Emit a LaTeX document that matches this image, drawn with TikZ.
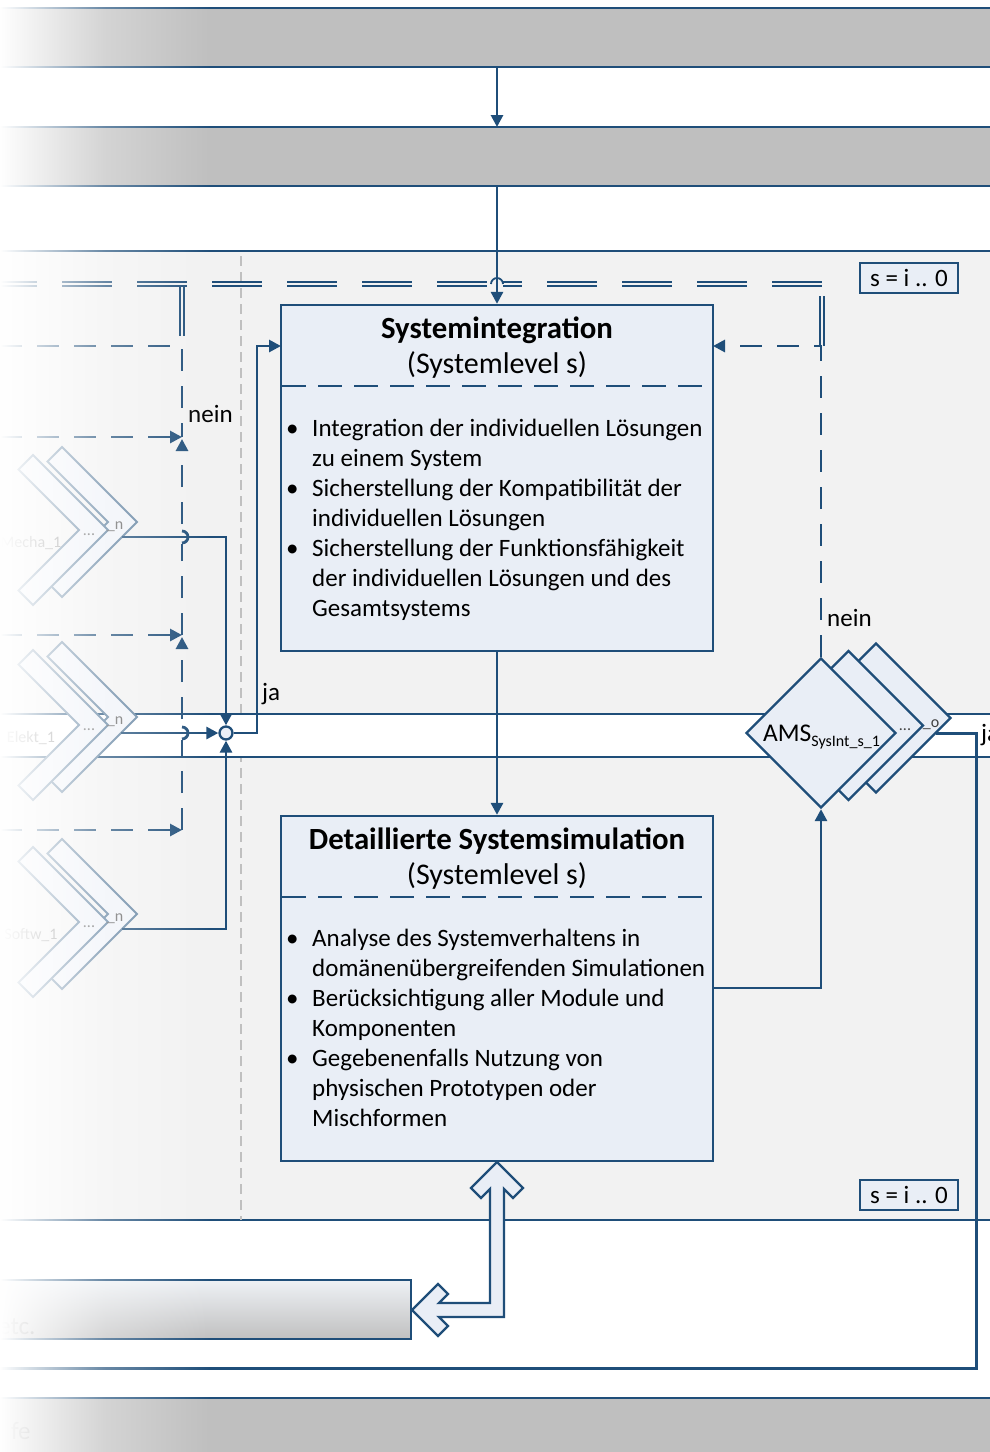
\documentclass[tikz,border=0pt]{standalone}
\usepackage{fontspec}
\setmainfont{Carlito}
\usetikzlibrary{arrows.meta,shapes.geometric,fadings}

\definecolor{navy}{HTML}{1F4E79}
\definecolor{boxfill}{HTML}{E9EEF6}
\definecolor{regionbg}{HTML}{F2F2F2}
\definecolor{bandgray}{HTML}{BFBFBF}
\definecolor{guidegray}{HTML}{C0C0C0}
\definecolor{etctop}{HTML}{EEF1F5}
\definecolor{etcbottom}{HTML}{C0C0C0}

% white veil that softens the left margin
\tikzfading[name=fadeleft, left color=transparent!0, right color=transparent!100, middle color=transparent!67]

\tikzset{
  flow/.style={draw=navy, line width=2.8pt},
  arrowend/.style={-{Triangle[length=12pt,width=12pt]}},
  dashflow/.style={draw=navy, line width=2.8pt, dash pattern=on 22pt off 15pt},
  dblline/.style={draw=navy, line width=1.8pt, double=regionbg, double distance=1.8pt},
  bandline/.style={draw=navy, line width=2.2pt},
  stepbox/.style={draw=navy, line width=2.3pt, fill=boxfill, rectangle, inner sep=0pt},
  diamondbox/.style={draw=navy, line width=2.3pt, fill=boxfill, diamond, aspect=1, inner sep=0pt,
                     minimum width=150pt, minimum height=150pt},
  sepdash/.style={draw=navy, line width=2.8pt, dash pattern=on 24pt off 12pt},
  chev/.style={draw=navy!70, line width=1.8pt, fill=boxfill!70, line join=miter},
  blockarrow/.style={draw=navy, line width=2.3pt, fill=boxfill, line join=miter},
  bodytext/.style={font=\fontsize{25}{30}\selectfont, inner sep=0pt, anchor=base west},
  boxtitle/.style={font=\fontsize{30.8}{36}\selectfont\bfseries, inner sep=0pt, anchor=base},
  boxsub/.style={font=\fontsize{30}{36}\selectfont, inner sep=0pt, anchor=base},
  lbl/.style={font=\fontsize{25}{30}\selectfont, inner sep=0pt, anchor=base west},
  chevtext/.style={font=\fontsize{16}{18}\selectfont, inner sep=0pt, text=black!45},
  chevdots/.style={font=\fontsize{16}{18}\selectfont, inner sep=0pt, text=black!60},
}

\begin{document}
\begin{tikzpicture}[x=1pt,y=-1pt]
\useasboundingbox (0,0) rectangle (990,1452);
\clip (0,0) rectangle (990,1452);
\fill[white] (0,0) rectangle (990,1452);

% ---------- upper phase bands ----------
\fill[bandgray] (0,8) rectangle (990,67);
\draw[bandline] (0,8) -- (990,8);
\draw[bandline] (0,67) -- (990,67);
\fill[bandgray] (0,127) rectangle (990,186);
\draw[bandline] (0,127) -- (990,127);
\draw[bandline] (0,186) -- (990,186);
\coordinate (b1out) at (497,67);
\coordinate (b2in) at (497,127);
\coordinate (b2out) at (497,186);
\draw[flow, arrowend] (b1out) -- (b2in);

% ---------- system level region ----------
\fill[regionbg] (0,251) rectangle (990,1220);
\draw[bandline] (0,251) -- (990,251);
\draw[bandline] (0,1220) -- (990,1220);
\draw[guidegray, line width=1.5pt, dash pattern=on 10pt off 6pt] (241,256) -- (241,1220);

% white lane of the decision
\fill[white] (0,714) rectangle (990,757);
\draw[bandline] (0,714) -- (990,714);
\draw[bandline] (0,757) -- (990,757);

% ---------- iteration loop (double dashed) ----------
\draw[dblline, dash pattern=on 50pt off 25pt] (-13,284) -- (491,284);
\draw[dblline, dash pattern=on 50pt off 25pt, dash phase=31pt] (503,284) -- (822,284);
\draw[navy, line width=1.8pt] (491,284) arc[start angle=180, end angle=360, radius=6];
\draw[dblline] (182,287) -- (182,336);
\draw[dblline] (822,296) -- (822,346);

% ---------- feedback lines on the left ----------
\draw[dashflow] (0,346) -| (182,437);
\draw[dashflow, arrowend] (0,437) -- (182,437);
\draw[dashflow, arrowend] (182,635) -- (182,439);
\draw[dashflow, arrowend] (0,635) -- (182,635);
\draw[dashflow, arrowend] (182,830) -- (182,637);
\draw[dashflow, arrowend] (0,830) -- (182,830);
\node[lbl] (neinl) at (188,422) {nein};

% line hops on the dashed vertical
\fill[regionbg] (178,530) rectangle (187,544);
\draw[navy, line width=2.8pt] (182,531) arc[start angle=-90, end angle=90, radius=6];
\fill[white] (178,726) rectangle (187,740);
\draw[navy, line width=2.8pt] (182,727) arc[start angle=-90, end angle=90, radius=6];

% ---------- domain chevrons ----------
\foreach \ty/\lab in {522/Mecha\_1,717/Elekt\_1,914/Softw\_1}{
  \draw[chev] (62,{\ty-75}) -- (137,\ty) -- (62,{\ty+75}) -- (47.5,{\ty+60.5}) -- (108,\ty) -- (47.5,{\ty-60.5}) -- cycle;
  \draw[chev] (33,{\ty-67}) -- (108,{\ty+8}) -- (33,{\ty+83}) -- (18.5,{\ty+68.5}) -- (79,{\ty+8}) -- (18.5,{\ty-52.5}) -- cycle;
  \node[chevtext] (cl\ty) at (31,{\ty+21}) {\lab};
  \node[chevdots] (cd\ty) at (89,{\ty+13}) {...};
  \node[chevdots] (cn\ty) at (115,{\ty+5}) {\_n};
}
\coordinate (mout) at (122,537);
\coordinate (eout) at (121,733);
\coordinate (sout) at (122,929);

% ---------- junction and entry into the integration step ----------
\node[circle, draw=navy, line width=2.3pt, fill=boxfill, minimum size=13pt, inner sep=0pt] (jn) at (226,733) {};
\draw[flow, arrowend] (mout) -| (jn.north);
\draw[flow, arrowend] (eout) -- (jn.west);
\draw[flow, arrowend] (sout) -| (jn.south);
\coordinate (siin) at (281,346);
\draw[flow, arrowend] (jn.east) -- (257,733) |- (siin);
\node[lbl] (jal) at (262,700) {ja};

% ---------- Systemintegration ----------
\node[stepbox, minimum width=432pt, minimum height=346pt] (si) at (497,478) {};
\draw[flow, arrowend] (b2out) -- (si.north);
\draw[sepdash] (282,386) -- (712,386);
\node[boxtitle] (sit) at (497,338) {Systemintegration};
\node[boxsub] (sis) at (497,373) {(Systemlevel s)};
\foreach \yy in {436,496,556}{\node[bodytext] (sib\yy) at (286,\yy) {\textbullet};}
\node[bodytext] (si1) at (312,436) {Integration der individuellen Lösungen};
\node[bodytext] (si2) at (312,466) {zu einem System};
\node[bodytext] (si3) at (312,496) {Sicherstellung der Kompatibilität der};
\node[bodytext] (si4) at (312,526) {individuellen Lösungen};
\node[bodytext] (si5) at (312,556) {Sicherstellung der Funktionsfähigkeit};
\node[bodytext] (si6) at (312,586) {der individuellen Lösungen und des};
\node[bodytext] (si7) at (312,616) {Gesamtsystems};

% ---------- Detaillierte Systemsimulation ----------
\node[stepbox, minimum width=432pt, minimum height=345pt] (ds) at (497,988.5) {};
\draw[flow, arrowend] (si.south) -- (ds.north);
\draw[sepdash] (282,897) -- (712,897);
\node[boxtitle] (dst) at (497,849) {Detaillierte Systemsimulation};
\node[boxsub] (dss) at (497,884) {(Systemlevel s)};
\foreach \yy in {946,1006,1066}{\node[bodytext] (dsb\yy) at (286,\yy) {\textbullet};}
\node[bodytext] (ds1) at (312,946) {Analyse des Systemverhaltens in};
\node[bodytext] (ds2) at (312,976) {domänenübergreifenden Simulationen};
\node[bodytext] (ds3) at (312,1006) {Berücksichtigung aller Module und};
\node[bodytext] (ds4) at (312,1036) {Komponenten};
\node[bodytext] (ds5) at (312,1066) {Gegebenenfalls Nutzung von};
\node[bodytext] (ds6) at (312,1096) {physischen Prototypen oder};
\node[bodytext] (ds7) at (312,1126) {Mischformen};

% ---------- decision stack ----------
\node[diamondbox] (ams3) at (876,718) {};
\node[diamondbox] (ams2) at (848.5,725.5) {};
\node[diamondbox] (ams) at (821,733) {};
\node[font=\fontsize{25.5}{30}\selectfont, inner sep=0pt, anchor=base] (amsl) at (821.5,741)
  {AMS\raisebox{-5pt}{\fontsize{16}{18}\selectfont SysInt\_s\_1}};
\node[chevdots, text=black!75] (amsd) at (905,730) {...};
\node[chevdots, text=black!75] (amso) at (931,725) {\_o};

\coordinate (dsout) at (713,988);
\draw[flow, arrowend] (dsout) -| (ams.south);
\coordinate (siback) at (713,346);
\draw[dashflow, arrowend] (ams.north) |- (siback);
\node[lbl] (neinr) at (827,626) {nein};

% ---------- level counters ----------
\node[stepbox, minimum width=98pt, minimum height=30pt, font=\fontsize{25}{30}\selectfont] (lvl1) at (909,278) {s = i .. 0};
\node[stepbox, minimum width=98pt, minimum height=30pt, font=\fontsize{25}{30}\selectfont] (lvl2) at (909,1195) {s = i .. 0};

% ---------- exit to the next phase ----------
\coordinate (amsout) at (936,733);
\draw[flow, line width=3pt] (amsout) -| (976,1368) -- (-5,1368);
\node[lbl] (jar) at (981,741) {ja};

% ---------- supporting tools box and exchange arrow ----------
\node[draw=navy, line width=2.3pt, top color=etctop, bottom color=etcbottom, rectangle, inner sep=0pt,
      minimum width=415pt, minimum height=59pt] (etcbox) at (203.5,1309.5) {};
\node[lbl, text=black!50] (etct) at (-2,1334) {etc.};
\draw[blockarrow] (497,1162) -- (523,1188) -- (513,1198) -- (504,1189) -- (504,1317)
  -- (439,1317) -- (448,1326) -- (438,1336) -- (412,1310) -- (438,1284) -- (448,1294)
  -- (439,1303) -- (490,1303) -- (490,1189) -- (481,1198) -- (471,1188) -- cycle;

% ---------- lower phase band ----------
\fill[bandgray] (0,1398) rectangle (990,1460);
\draw[bandline] (0,1398) -- (990,1398);
\node[lbl, text=black!50] (fet) at (11,1439) {fe};

% ---------- soft left margin ----------
\fill[white, path fading=fadeleft] (0,0) rectangle (210,1452);
\end{tikzpicture}
\end{document}
